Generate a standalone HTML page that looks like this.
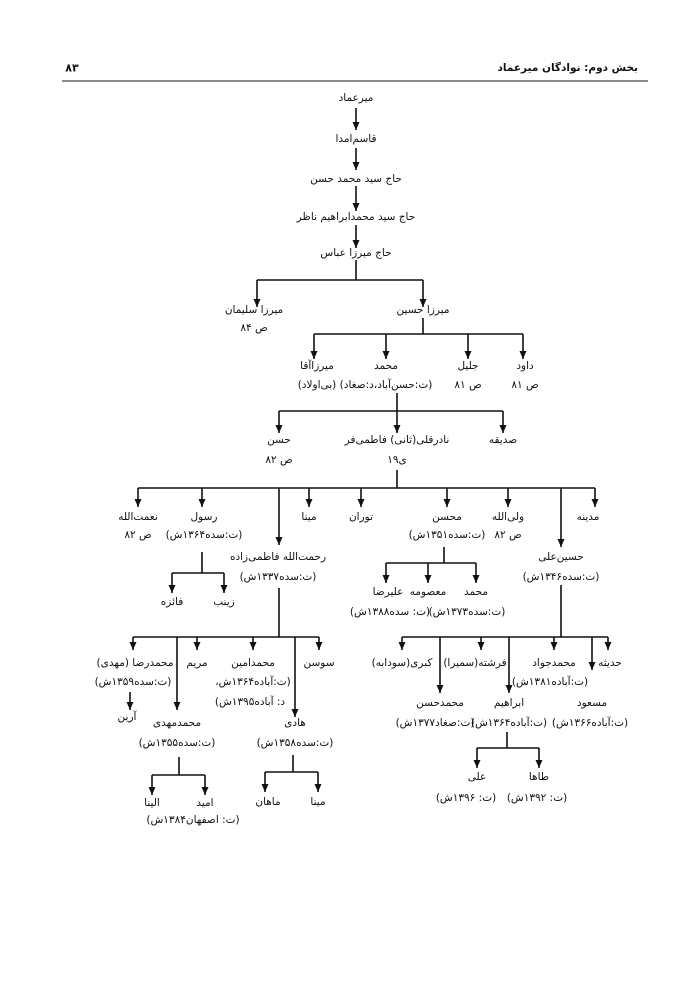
<!DOCTYPE html>
<html><head><meta charset="utf-8"><style>
html,body{margin:0;padding:0;background:#fff}
svg{display:block}
text{font-family:"DejaVu Sans","Liberation Sans",sans-serif;font-size:10.5px;fill:#111;text-anchor:middle;dominant-baseline:central;direction:rtl;unicode-bidi:embed}
.l{stroke:#111;stroke-width:1.6;fill:none}
</style></head><body>
<svg width="700" height="989" viewBox="0 0 700 989" xmlns="http://www.w3.org/2000/svg">
<defs><marker id="a" markerUnits="userSpaceOnUse" markerWidth="8" markerHeight="7" refX="8" refY="3.5" orient="auto"><path d="M0,0 L8,3.5 L0,7 z" fill="#111"/></marker></defs>
<text x="638" y="68" style="font-weight:bold;font-size:10.5px;text-anchor:start">بخش دوم: نوادگان میرعماد</text>
<text x="72" y="68" style="font-weight:bold;font-size:11px">۸۳</text>
<line x1="62" y1="81" x2="648" y2="81" stroke="#444" stroke-width="1.2"/>
<g class="l">
<path d="M356 260V280M257 280H423M423 318V334M314 334H523M397 393V411M279 411H503M397 470V488M138 488H595M202 552V573M172 573H224M279 588V637M133 637H319M179 757V775M152 775H205M293 755V772M265 772H318M444 547V563M386 563H476M561 585V637M402 637H608M507 732V748M477 748H539"/>
<line x1="356" y1="108" x2="356" y2="130" marker-end="url(#a)"/>
<line x1="356" y1="148" x2="356" y2="170" marker-end="url(#a)"/>
<line x1="356" y1="186" x2="356" y2="211" marker-end="url(#a)"/>
<line x1="356" y1="225" x2="356" y2="248" marker-end="url(#a)"/>
<line x1="257" y1="280" x2="257" y2="307" marker-end="url(#a)"/>
<line x1="423" y1="280" x2="423" y2="307" marker-end="url(#a)"/>
<line x1="314" y1="334" x2="314" y2="359" marker-end="url(#a)"/>
<line x1="386" y1="334" x2="386" y2="359" marker-end="url(#a)"/>
<line x1="468" y1="334" x2="468" y2="359" marker-end="url(#a)"/>
<line x1="523" y1="334" x2="523" y2="359" marker-end="url(#a)"/>
<line x1="279" y1="411" x2="279" y2="433" marker-end="url(#a)"/>
<line x1="397" y1="411" x2="397" y2="433" marker-end="url(#a)"/>
<line x1="503" y1="411" x2="503" y2="433" marker-end="url(#a)"/>
<line x1="138" y1="488" x2="138" y2="507" marker-end="url(#a)"/>
<line x1="202" y1="488" x2="202" y2="507" marker-end="url(#a)"/>
<line x1="309" y1="488" x2="309" y2="507" marker-end="url(#a)"/>
<line x1="361" y1="488" x2="361" y2="507" marker-end="url(#a)"/>
<line x1="447" y1="488" x2="447" y2="507" marker-end="url(#a)"/>
<line x1="508" y1="488" x2="508" y2="507" marker-end="url(#a)"/>
<line x1="595" y1="488" x2="595" y2="507" marker-end="url(#a)"/>
<line x1="279" y1="488" x2="279" y2="545" marker-end="url(#a)"/>
<line x1="561" y1="488" x2="561" y2="547" marker-end="url(#a)"/>
<line x1="172" y1="573" x2="172" y2="593" marker-end="url(#a)"/>
<line x1="224" y1="573" x2="224" y2="593" marker-end="url(#a)"/>
<line x1="133" y1="637" x2="133" y2="650" marker-end="url(#a)"/>
<line x1="197" y1="637" x2="197" y2="650" marker-end="url(#a)"/>
<line x1="253" y1="637" x2="253" y2="650" marker-end="url(#a)"/>
<line x1="319" y1="637" x2="319" y2="650" marker-end="url(#a)"/>
<line x1="177" y1="637" x2="177" y2="710" marker-end="url(#a)"/>
<line x1="295" y1="637" x2="295" y2="717" marker-end="url(#a)"/>
<line x1="130" y1="692" x2="130" y2="710" marker-end="url(#a)"/>
<line x1="152" y1="775" x2="152" y2="795" marker-end="url(#a)"/>
<line x1="205" y1="775" x2="205" y2="795" marker-end="url(#a)"/>
<line x1="265" y1="772" x2="265" y2="792" marker-end="url(#a)"/>
<line x1="318" y1="772" x2="318" y2="792" marker-end="url(#a)"/>
<line x1="386" y1="563" x2="386" y2="583" marker-end="url(#a)"/>
<line x1="428" y1="563" x2="428" y2="583" marker-end="url(#a)"/>
<line x1="476" y1="563" x2="476" y2="583" marker-end="url(#a)"/>
<line x1="402" y1="637" x2="402" y2="650" marker-end="url(#a)"/>
<line x1="481" y1="637" x2="481" y2="650" marker-end="url(#a)"/>
<line x1="554" y1="637" x2="554" y2="650" marker-end="url(#a)"/>
<line x1="608" y1="637" x2="608" y2="650" marker-end="url(#a)"/>
<line x1="440" y1="637" x2="440" y2="693" marker-end="url(#a)"/>
<line x1="509" y1="637" x2="509" y2="693" marker-end="url(#a)"/>
<line x1="592" y1="637" x2="592" y2="670" marker-end="url(#a)"/>
<line x1="477" y1="748" x2="477" y2="768" marker-end="url(#a)"/>
<line x1="539" y1="748" x2="539" y2="768" marker-end="url(#a)"/>
</g>
<text x="356" y="98">میرعماد</text>
<text x="356" y="139">قاسم‌امدا</text>
<text x="356" y="179">حاج سید محمد حسن</text>
<text x="356" y="217">حاج سید محمدابراهیم ناظر</text>
<text x="356" y="253">حاج میرزا عباس</text>
<text x="254" y="310">میرزا سلیمان</text>
<text x="254" y="328">ص ۸۴</text>
<text x="423" y="310">میرزا حسین</text>
<text x="317" y="366">میرزاآقا</text>
<text x="317" y="385">(بی‌اولاد)</text>
<text x="386" y="366">محمد</text>
<text x="386" y="385">(ت:حسن‌آباد،د:صغاد)</text>
<text x="468" y="366">جلیل</text>
<text x="468" y="385">ص ۸۱</text>
<text x="525" y="366">داود</text>
<text x="525" y="385">ص ۸۱</text>
<text x="279" y="440">حسن</text>
<text x="279" y="460">ص ۸۲</text>
<text x="397" y="440">نادرقلی(ثانی) فاطمی‌فر</text>
<text x="397" y="460">ی۱۹</text>
<text x="503" y="440">صدیقه</text>
<text x="138" y="517">نعمت‌الله</text>
<text x="138" y="535">ص ۸۲</text>
<text x="204" y="517">رسول</text>
<text x="204" y="535">(ت:سده۱۳۶۴ش)</text>
<text x="309" y="517">مینا</text>
<text x="361" y="517">توران</text>
<text x="447" y="517">محسن</text>
<text x="447" y="535">(ت:سده۱۳۵۱ش)</text>
<text x="508" y="517">ولی‌الله</text>
<text x="508" y="535">ص ۸۲</text>
<text x="588" y="517">مدینه</text>
<text x="278" y="557">رحمت‌الله فاطمی‌زاده</text>
<text x="278" y="577">(ت:سده۱۳۳۷ش)</text>
<text x="561" y="557">حسین‌علی</text>
<text x="561" y="577">(ت:سده۱۳۴۶ش)</text>
<text x="172" y="602">فائزه</text>
<text x="224" y="602">زینب</text>
<text x="388" y="592">علیرضا</text>
<text x="428" y="592">معصومه</text>
<text x="476" y="592">محمد</text>
<text x="390" y="612">(ت: سده۱۳۸۸ش)</text>
<text x="467" y="612">(ت:سده۱۳۷۳ش)</text>
<text x="135" y="663">محمدرضا (مهدی)</text>
<text x="133" y="682">(ت:سده۱۳۵۹ش)</text>
<text x="197" y="663">مریم</text>
<text x="253" y="663">محمدامین</text>
<text x="253" y="682">(ت:آباده۱۳۶۴ش،</text>
<text x="250" y="702">د: آباده۱۳۹۵ش)</text>
<text x="319" y="663">سوسن</text>
<text x="127" y="717">آرین</text>
<text x="177" y="723">محمدمهدی</text>
<text x="177" y="743">(ت:سده۱۳۵۵ش)</text>
<text x="295" y="723">هادی</text>
<text x="295" y="743">(ت:سده۱۳۵۸ش)</text>
<text x="152" y="803">الینا</text>
<text x="205" y="803">امید</text>
<text x="193" y="820">(ت: اصفهان۱۳۸۴ش)</text>
<text x="268" y="802">ماهان</text>
<text x="318" y="802">مینا</text>
<text x="402" y="663">کبری(سودابه)</text>
<text x="475" y="663">فرشته(سمیرا)</text>
<text x="554" y="663">محمدجواد</text>
<text x="550" y="682">(ت:آباده۱۳۸۱ش)</text>
<text x="610" y="663">حدیثه</text>
<text x="440" y="703">محمدحسن</text>
<text x="435" y="723">(ت:صغاد۱۳۷۷ش)</text>
<text x="509" y="703">ابراهیم</text>
<text x="509" y="723">(ت:آباده۱۳۶۴ش)</text>
<text x="590" y="723">(ت:آباده۱۳۶۶ش)</text>
<text x="592" y="703">مسعود</text>
<text x="477" y="777">علی</text>
<text x="539" y="777">طاها</text>
<text x="466" y="798">(ت: ۱۳۹۶ش)</text>
<text x="537" y="798">(ت: ۱۳۹۲ش)</text>
</svg>
</body></html>
